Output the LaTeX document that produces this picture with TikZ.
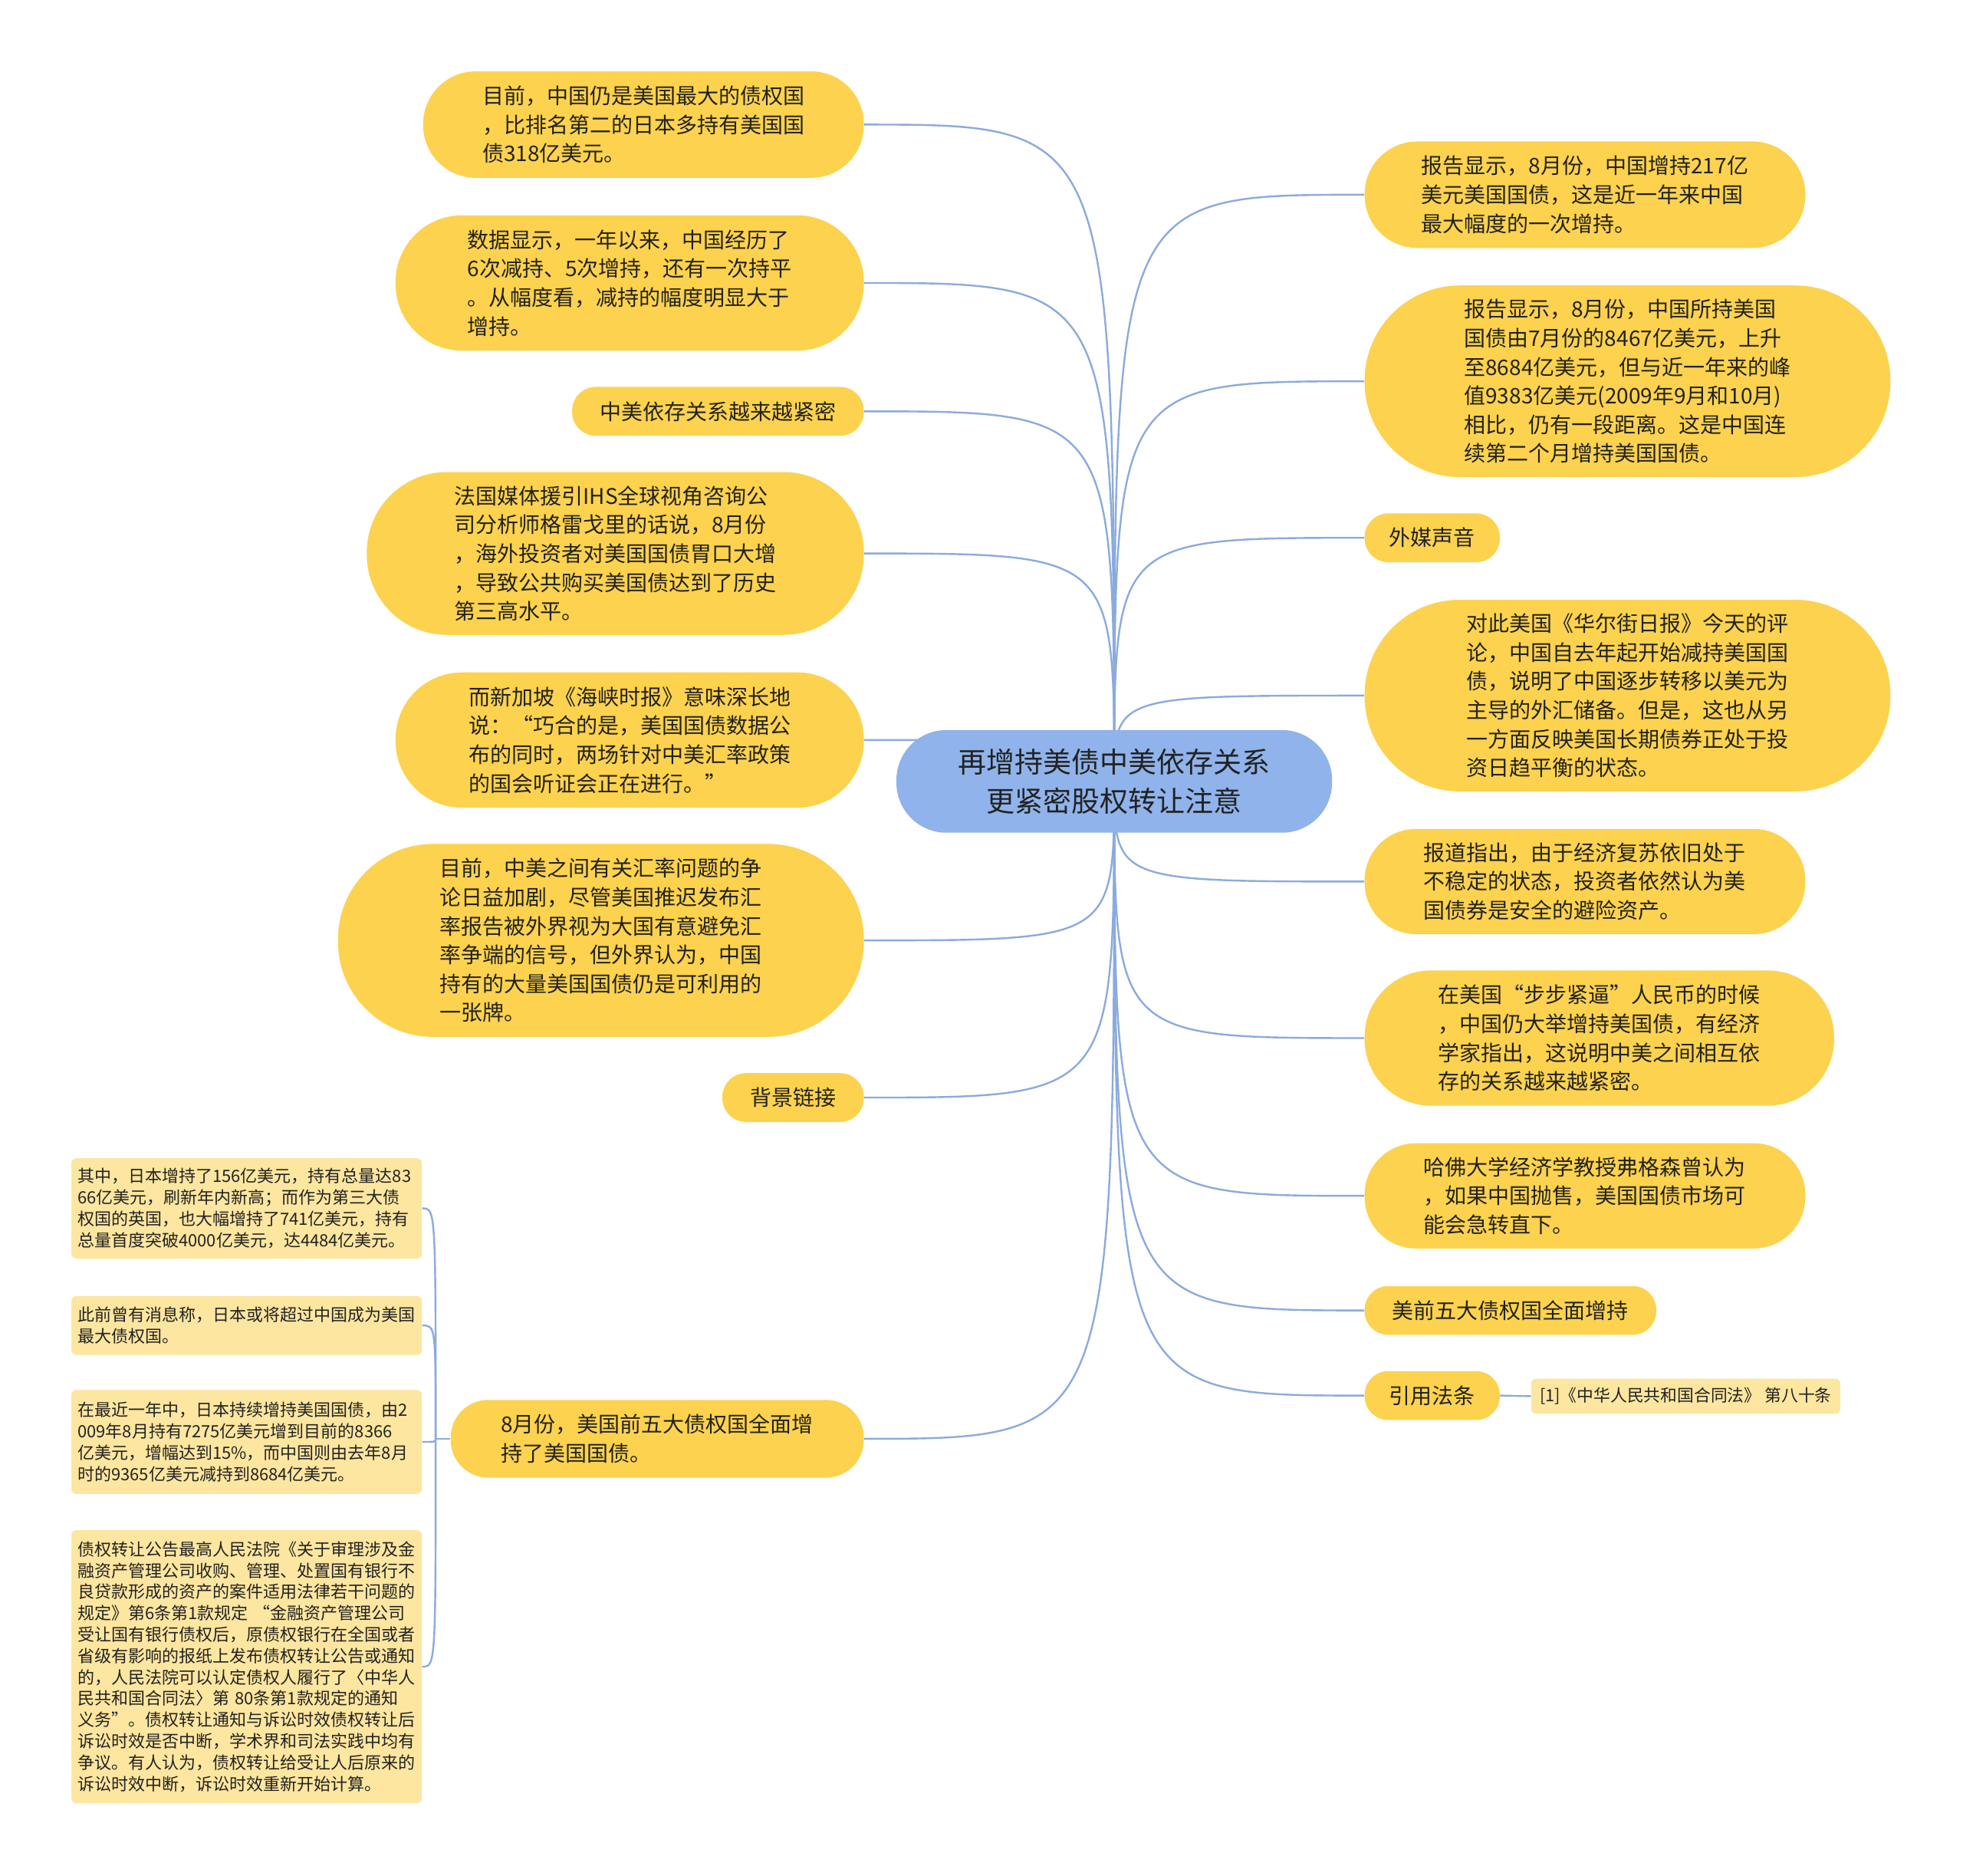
\documentclass[tikz,border=0pt]{standalone}
\usepackage{fontspec}
\setmainfont{Noto Sans CJK SC}
\usetikzlibrary{backgrounds}
\definecolor{ycol}{HTML}{FCD24F}
\definecolor{lycol}{HTML}{FDE6A0}
\definecolor{ccol}{HTML}{8FB3EA}
\definecolor{lcol}{HTML}{8BABDD}
\definecolor{tcol}{HTML}{222222}
\def\s{0.81633pt}
\begin{document}
\begin{tikzpicture}[x=0.81633pt, y=-0.81633pt,
  mainbox/.style={fill=ycol, draw=none, text=tcol, inner sep=0pt, align=left,
    font=\fontsize{14pt}{18.8pt}\selectfont},
  leafbox/.style={fill=lycol, draw=none, text=tcol, inner ysep=0pt, inner xsep=5*\s,
    text width=270*\s, align=left, rounded corners=4*\s, minimum width=280*\s,
    font=\fontsize{11pt}{13.9pt}\selectfont},
  refbox/.style={fill=lycol, draw=none, text=tcol, inner sep=0pt, align=center,
    rounded corners=4*\s, font=\fontsize{10.9pt}{13.9pt}\selectfont},
  centerbox/.style={fill=ccol, draw=none, text=tcol, inner sep=0pt, align=center,
    font=\fontsize{18.5pt}{25.3pt}\selectfont},
  conn/.style={draw=lcol, line width=1.2pt}
]
\useasboundingbox (0,0) rectangle (1568,1498);

% centre
\node[centerbox, minimum width=348*\s, minimum height=82*\s, rounded corners=40*\s] (C) at (890,624)
  {再增持美债中美依存关系\\更紧密股权转让注意};

% left side
\node[mainbox, minimum width=352*\s, minimum height=85*\s, rounded corners=42*\s] (L1) at (514,99.5)
  {目前，中国仍是美国最大的债权国\\，比排名第二的日本多持有美国国\\债318亿美元。};
\node[mainbox, minimum width=374*\s, minimum height=108*\s, rounded corners=53*\s] (L2) at (503,226)
  {数据显示，一年以来，中国经历了\\6次减持、5次增持，还有一次持平\\。从幅度看，减持的幅度明显大于\\增持。};
\node[mainbox, minimum width=233*\s, minimum height=39*\s, rounded corners=19*\s] (L3) at (573.5,328.5)
  {中美依存关系越来越紧密};
\node[mainbox, minimum width=397*\s, minimum height=130*\s, rounded corners=64*\s] (L4) at (491.5,442)
  {法国媒体援引IHS全球视角咨询公\\司分析师格雷戈里的话说，8月份\\，海外投资者对美国国债胃口大增\\，导致公共购买美国债达到了历史\\第三高水平。};
\node[mainbox, minimum width=374*\s, minimum height=108*\s, rounded corners=53*\s] (L5) at (503,591)
  {而新加坡《海峡时报》意味深长地\\说：“巧合的是，美国国债数据公\\布的同时，两场针对中美汇率政策\\的国会听证会正在进行。”};
\node[mainbox, minimum width=420*\s, minimum height=154*\s, rounded corners=76*\s] (L6) at (480,751)
  {目前，中美之间有关汇率问题的争\\论日益加剧，尽管美国推迟发布汇\\率报告被外界视为大国有意避免汇\\率争端的信号，但外界认为，中国\\持有的大量美国国债仍是可利用的\\一张牌。};
\node[mainbox, minimum width=113*\s, minimum height=39*\s, rounded corners=19*\s] (L7) at (633.5,876.5)
  {背景链接};
\node[mainbox, minimum width=330*\s, minimum height=62*\s, rounded corners=30*\s] (L8) at (525,1149)
  {8月份，美国前五大债权国全面增\\持了美国国债。};

% leaves
\node[leafbox, minimum height=80*\s] (La) at (197,965)
  {其中，日本增持了156亿美元，持有总量达83\\66亿美元，刷新年内新高；而作为第三大债\\权国的英国，也大幅增持了741亿美元，持有\\总量首度突破4000亿美元，达4484亿美元。};
\node[leafbox, minimum height=47*\s] (Lb) at (197,1058.5)
  {此前曾有消息称，日本或将超过中国成为美国\\最大债权国。};
\node[leafbox, minimum height=83*\s] (Lc) at (197,1151.5)
  {在最近一年中，日本持续增持美国国债，由2\\009年8月持有7275亿美元增到目前的8366\\亿美元，增幅达到15\%，而中国则由去年8月\\时的9365亿美元减持到8684亿美元。};
\node[leafbox, minimum height=218*\s] (Ld) at (197,1331)
  {债权转让公告最高人民法院《关于审理涉及金\\融资产管理公司收购、管理、处置国有银行不\\良贷款形成的资产的案件适用法律若干问题的\\规定》第6条第1款规定 “金融资产管理公司\\受让国有银行债权后，原债权银行在全国或者\\省级有影响的报纸上发布债权转让公告或通知\\的，人民法院可以认定债权人履行了〈中华人\\民共和国合同法〉第 80条第1款规定的通知\\义务”。债权转让通知与诉讼时效债权转让后\\诉讼时效是否中断，学术界和司法实践中均有\\争议。有人认为，债权转让给受让人后原来的\\诉讼时效中断，诉讼时效重新开始计算。};

% right side
\node[mainbox, minimum width=352*\s, minimum height=85*\s, rounded corners=42*\s] (R1) at (1266,155.5)
  {报告显示，8月份，中国增持217亿\\美元美国国债，这是近一年来中国\\最大幅度的一次增持。};
\node[mainbox, minimum width=420*\s, minimum height=153*\s, rounded corners=76*\s] (R2) at (1300,304.5)
  {报告显示，8月份，中国所持美国\\国债由7月份的8467亿美元，上升\\至8684亿美元，但与近一年来的峰\\值9383亿美元(2009年9月和10月)\\相比，仍有一段距离。这是中国连\\续第二个月增持美国国债。};
\node[mainbox, minimum width=108*\s, minimum height=39*\s, rounded corners=19*\s] (R3) at (1144,429.5)
  {外媒声音};
\node[mainbox, minimum width=420*\s, minimum height=153*\s, rounded corners=76*\s] (R4) at (1300,555.5)
  {对此美国《华尔街日报》今天的评\\论，中国自去年起开始减持美国国\\债，说明了中国逐步转移以美元为\\主导的外汇储备。但是，这也从另\\一方面反映美国长期债券正处于投\\资日趋平衡的状态。};
\node[mainbox, minimum width=352*\s, minimum height=84*\s, rounded corners=41*\s] (R5) at (1266,704)
  {报道指出，由于经济复苏依旧处于\\不稳定的状态，投资者依然认为美\\国债券是安全的避险资产。};
\node[mainbox, minimum width=375*\s, minimum height=108*\s, rounded corners=53*\s] (R6) at (1277.5,829)
  {在美国“步步紧逼”人民币的时候\\，中国仍大举增持美国债，有经济\\学家指出，这说明中美之间相互依\\存的关系越来越紧密。};
\node[mainbox, minimum width=352*\s, minimum height=84*\s, rounded corners=41*\s] (R7) at (1266,955)
  {哈佛大学经济学教授弗格森曾认为\\，如果中国抛售，美国国债市场可\\能会急转直下。};
\node[mainbox, minimum width=233*\s, minimum height=39*\s, rounded corners=19*\s] (R8) at (1206.5,1046.5)
  {美前五大债权国全面增持};
\node[mainbox, minimum width=108*\s, minimum height=39*\s, rounded corners=19*\s] (R9) at (1144,1114.5)
  {引用法条};
\node[refbox, minimum width=247*\s, minimum height=28*\s] (R9a) at (1346.5,1115)
  {[1]《中华人民共和国合同法》 第八十条};

\coordinate (sp) at (348,1149);

\begin{scope}[on background layer]
  \fill[white] (0,0) rectangle (1568,1498);
  \foreach \n in {L1,L2,L3,L4,L5,L6,L7,L8}
    \draw[conn] (C.center) .. controls (C.center |- \n.east) .. (\n.east);
  \foreach \n in {R1,R2,R3,R4,R5,R6,R7,R8,R9}
    \draw[conn] (C.center) .. controls (C.center |- \n.west) .. (\n.west);
  \draw[conn] (L8.west) -- (sp);
  \foreach \n in {La,Lb,Lc,Ld}
    \draw[conn] (sp) .. controls (sp |- \n.east) .. (\n.east);
  \draw[conn] (R9.east) -- (R9a.west);
\end{scope}
\end{tikzpicture}
\end{document}
